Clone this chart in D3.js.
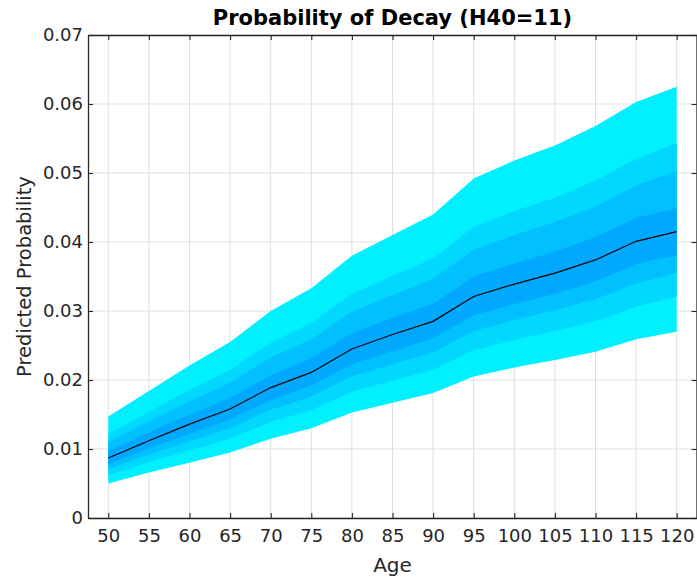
<!DOCTYPE html>
<html>
<head>
<meta charset="utf-8">
<script src="https://cdn.jsdelivr.net/npm/d3@7"></script>
<style>
  body { margin: 0; background: #fff; }
  svg { display: block; font-family: "DejaVu Sans", sans-serif; }
</style>
</head>
<body>
<script>
// ages on x axis
const ages = [50, 55, 60, 65, 70, 75, 80, 85, 90, 95, 100, 105, 110, 115, 120];
// median predicted probability
const median = [0.0087, 0.0112, 0.0136, 0.0158, 0.0189, 0.0211, 0.0245, 0.0266, 0.0285, 0.0321, 0.0339, 0.0355, 0.0374, 0.0401, 0.0415];
// band edges, outermost first
const upper1 = [0.0147, 0.0184, 0.0221, 0.0255, 0.0300, 0.0333, 0.0380, 0.0410, 0.0440, 0.0492, 0.0518, 0.0540, 0.0568, 0.0603, 0.0625];
const lower1 = [0.0050, 0.0066, 0.0080, 0.0095, 0.0115, 0.0130, 0.0153, 0.0167, 0.0181, 0.0205, 0.0218, 0.0229, 0.0241, 0.0259, 0.0270];
const upper2 = [0.0122, 0.0154, 0.0186, 0.0215, 0.0254, 0.0283, 0.0325, 0.0351, 0.0376, 0.0422, 0.0445, 0.0464, 0.0489, 0.0521, 0.0543];
const lower2 = [0.0062, 0.0081, 0.0098, 0.0115, 0.0139, 0.0156, 0.0183, 0.0199, 0.0215, 0.0243, 0.0258, 0.0271, 0.0285, 0.0306, 0.0321];
const upper3 = [0.0110, 0.0140, 0.0169, 0.0196, 0.0233, 0.0259, 0.0299, 0.0323, 0.0347, 0.0389, 0.0410, 0.0429, 0.0451, 0.0482, 0.0503];
const lower3 = [0.0071, 0.0092, 0.0111, 0.0130, 0.0157, 0.0176, 0.0205, 0.0223, 0.0240, 0.0271, 0.0287, 0.0301, 0.0317, 0.0340, 0.0355];
const upper4 = [0.0097, 0.0124, 0.0150, 0.0174, 0.0207, 0.0231, 0.0268, 0.0290, 0.0311, 0.0350, 0.0369, 0.0386, 0.0407, 0.0435, 0.0449];
const lower4 = [0.0078, 0.0101, 0.0122, 0.0143, 0.0171, 0.0192, 0.0223, 0.0242, 0.0260, 0.0294, 0.0310, 0.0325, 0.0343, 0.0368, 0.0381];

const bands = [
  { hi: upper1, lo: lower1, color: "#00f0ff" },
  { hi: upper2, lo: lower2, color: "#00d8ff" },
  { hi: upper3, lo: lower3, color: "#00c0ff" },
  { hi: upper4, lo: lower4, color: "#00a8ff" }
];

const xTicks = ages;
const yTicks = [0, 0.01, 0.02, 0.03, 0.04, 0.05, 0.06, 0.07];

const width = 697, height = 577;
const plotLeft = 88, plotRight = 697, plotTop = 35, plotBottom = 518;
const axisColor = "#262626";

const svg = d3.select("body").append("svg")
  .attr("width", width)
  .attr("height", height);

const x = d3.scaleLinear().domain([47.5, 122.5]).range([plotLeft, plotRight]);
const y = d3.scaleLinear().domain([0, 0.07]).range([plotBottom, plotTop]);

// grid
svg.append("g").selectAll("line")
  .data(xTicks)
  .enter().append("line")
  .attr("x1", d => x(d)).attr("x2", d => x(d))
  .attr("y1", plotTop).attr("y2", plotBottom)
  .style("stroke", "#dfdfdf");
svg.append("g").selectAll("line")
  .data(yTicks)
  .enter().append("line")
  .attr("x1", plotLeft).attr("x2", plotRight)
  .attr("y1", d => y(d)).attr("y2", d => y(d))
  .style("stroke", "#dfdfdf");

// bands
bands.forEach(b => {
  const area = d3.area()
    .x((d, i) => x(ages[i]))
    .y0((d, i) => y(b.lo[i]))
    .y1((d, i) => y(b.hi[i]));
  svg.append("path")
    .datum(ages)
    .attr("d", area)
    .style("fill", b.color)
    .style("stroke", "none");
});

// median line
const line = d3.line()
  .x((d, i) => x(ages[i]))
  .y(d => y(d));
svg.append("path")
  .datum(median)
  .attr("d", line)
  .style("fill", "none")
  .style("stroke", "#000")
  .style("stroke-width", 1.2);

// axes (MATLAB style box with inward ticks)
const xAxis = svg.append("g")
  .attr("transform", `translate(0,${plotBottom})`)
  .call(d3.axisBottom(x).tickValues(xTicks).tickSizeInner(-5).tickSizeOuter(0).tickPadding(11));
const xAxisTop = svg.append("g")
  .attr("transform", `translate(0,${plotTop})`)
  .call(d3.axisTop(x).tickValues(xTicks).tickSizeInner(-5).tickSizeOuter(0).tickFormat(""));
const yAxis = svg.append("g")
  .attr("transform", `translate(${plotLeft},0)`)
  .call(d3.axisLeft(y).tickValues(yTicks).tickSizeInner(-5).tickSizeOuter(0).tickPadding(5)
    .tickFormat(d => d === 0 ? "0" : d3.format(".2f")(d)));
const yAxisRight = svg.append("g")
  .attr("transform", `translate(${plotRight - 0.5},0)`)
  .call(d3.axisRight(y).tickValues(yTicks).tickSizeInner(-5).tickSizeOuter(0).tickFormat(""));

[xAxis, xAxisTop, yAxis, yAxisRight].forEach(a => {
  a.select(".domain").style("stroke", axisColor).style("stroke-width", 1.3);
  a.selectAll(".tick line").style("stroke", axisColor).style("stroke-width", 1.1);
  a.selectAll(".tick text")
    .style("fill", axisColor)
    .style("font-size", "18px")
    .style("font-family", "DejaVu Sans, sans-serif");
});

// title and labels
svg.append("text")
  .attr("x", (plotLeft + plotRight) / 2)
  .attr("y", 25)
  .attr("text-anchor", "middle")
  .style("font-size", "21px")
  .style("font-weight", "bold")
  .style("fill", "#000")
  .text("Probability of Decay (H40=11)");

svg.append("text")
  .attr("x", (plotLeft + plotRight) / 2)
  .attr("y", 572)
  .attr("text-anchor", "middle")
  .style("font-size", "20px")
  .style("fill", axisColor)
  .text("Age");

svg.append("text")
  .attr("transform", `translate(31,${(plotTop + plotBottom) / 2}) rotate(-90)`)
  .attr("text-anchor", "middle")
  .style("font-size", "19.5px")
  .style("fill", axisColor)
  .text("Predicted Probability");
</script>
</body>
</html>
